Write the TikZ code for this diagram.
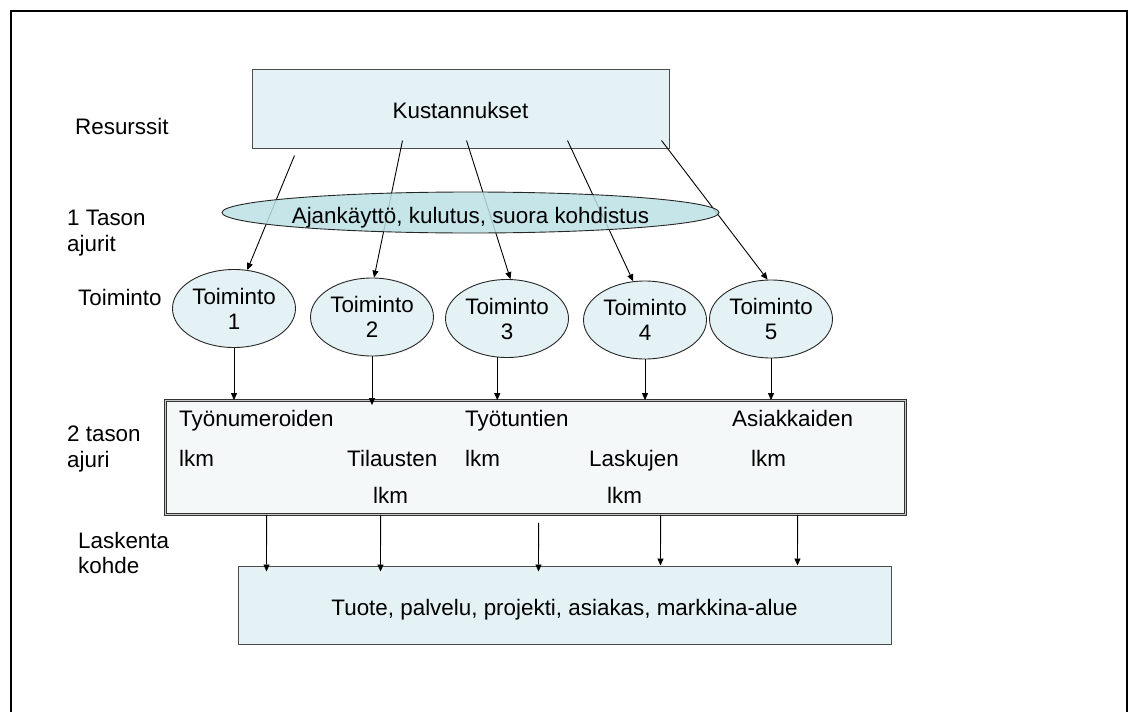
\documentclass[tikz,border=0pt]{standalone}
\usepackage{fontspec}
\setmainfont{Liberation Sans}
\usetikzlibrary{arrows.meta,shapes.geometric,calc}

\definecolor{gridfill}{RGB}{229,242,245}
\definecolor{drvfill}{RGB}{188,224,228}
\definecolor{dotfill}{RGB}{244,248,248}

% text set on a baseline a fixed distance below the node centre
\newcommand{\basedtext}[2]{\raisebox{-#1}[0pt][0pt]{#2}}

\begin{document}
\begin{tikzpicture}[x=1pt,y=-1pt,
  every node/.style={font=\fontsize{22.4}{25}\selectfont},
  conn/.style={draw=black, line width=0.9pt, -{Triangle[length=7pt,width=6pt]}},
  gridbox/.style={draw=black!70, line width=1pt, fill=gridfill, inner sep=0pt},
  actnode/.style={ellipse, draw=black!85, line width=0.9pt, fill=gridfill,
    minimum width=123pt, minimum height=78pt, inner sep=0pt, align=center},
  lbl/.style={anchor=base west, inner sep=0pt},
]
\useasboundingbox (0,0) rectangle (1133,712);

% outer frame, open at the bottom
\draw[line width=2pt] (11,712) -- (11,11) -- (1127,11) -- (1127,712);

% level labels
\node[lbl] (lres) at (75,134) {Resurssit};
\node[lbl] (ldrv1a) at (67,225) {1 Tason};
\node[lbl] (ldrv1b) at (67,251) {ajurit};
\node[lbl] (lact) at (78,305) {Toiminto};
\node[lbl] (ldrv2a) at (67,441) {2 tason};
\node[lbl] (ldrv2b) at (67,467) {ajuri};
\node[lbl] (lobja) at (78,548) {Laskenta};
\node[lbl] (lobjb) at (78,573) {kohde};

% resources
\node[gridbox, minimum width=417pt, minimum height=79pt] (kust) at (460.5,108.5)
  {\basedtext{9.5pt}{Kustannukset}};

% activities
\node[actnode] (t1) at (234,308.5) {Toiminto\\1};
\node[actnode] (t2) at (372,317) {Toiminto\\2};
\node[actnode] (t3) at (507,318.5) {Toiminto\\3};
\node[actnode] (t4) at (645,320) {Toiminto\\4};
\node[actnode] (t5) at (771,319) {Toiminto\\5};

% costs to activities
\draw[conn] ($(kust.south west)+(43,7)$) -- (t1.71);
\draw[conn] ($(kust.south west)+(151,-8)$) -- (t2.87);
\draw[conn] ($(kust.south west)+(215,-8)$) -- (t3.85);
\draw[conn] ($(kust.south west)+(316,-8)$) -- (t4.107);
\draw[conn] ($(kust.south west)+(410,-8)$) -- (t5.95);

% first level drivers, laid over the cost lines
\node[ellipse, draw=black!85, line width=0.9pt, fill=drvfill, fill opacity=0.85,
  text opacity=1, minimum width=497pt, minimum height=41pt, inner sep=0pt]
  (drv1) at (470.5,212.5)
  {\makebox[300pt]{\basedtext{10.5pt}{Ajankäyttö, kulutus, suora kohdistus}}};

% second level drivers
\node[draw=black!80, double=gray!45, line width=0.8pt, double distance=1.4pt,
  fill=dotfill, minimum width=740pt, minimum height=114pt, inner sep=0pt]
  (drv2) at (535.5,457.5) {};
\node[lbl] (d1a) at (179,426) {Työnumeroiden};
\node[lbl] (d1b) at (179,466) {lkm};
\node[lbl] (d2a) at (347,466) {Tilausten};
\node[lbl] (d2b) at (373,503) {lkm};
\node[lbl] (d3a) at (465,426) {Työtuntien};
\node[lbl] (d3b) at (465,466) {lkm};
\node[lbl] (d4a) at (589,466) {Laskujen};
\node[lbl] (d4b) at (607,503) {lkm};
\node[lbl] (d5a) at (732,426) {Asiakkaiden};
\node[lbl] (d5b) at (751,466) {lkm};

% activities to second level drivers
\draw[conn] (t1.south) -- (t1.south |- drv2.north);
\draw[conn] (t2.south) -- ($(t2.south |- drv2.north)+(0,5)$);
\draw[conn] (t3.-104) -- (t3.-104 |- drv2.north);
\draw[conn] (t4.south) -- (t4.south |- drv2.north);
\draw[conn] (t5.south) -- (t5.south |- drv2.north);

% cost objects
\node[gridbox, minimum width=653pt, minimum height=78pt] (kohde) at (564.5,605)
  {\basedtext{10pt}{Tuote, palvelu, projekti, asiakas, markkina-alue}};

% second level drivers to cost objects
\draw[conn] ($(drv2.south west)+(101.5,0)$) -- ($(kohde.north west)+(29,6)$);
\draw[conn] ($(drv2.south west)+(215.5,0)$) -- ($(kohde.north west)+(143,6)$);
\draw[conn] ($(drv2.south west)+(373.5,8)$) -- ($(kohde.north west)+(301,6)$);
\draw[conn] ($(drv2.south west)+(495.5,0)$) -- ($(kohde.north west)+(423,0)$);
\draw[conn] ($(drv2.south west)+(632.5,0)$) -- ($(kohde.north west)+(560,0)$);
\end{tikzpicture}
\end{document}
